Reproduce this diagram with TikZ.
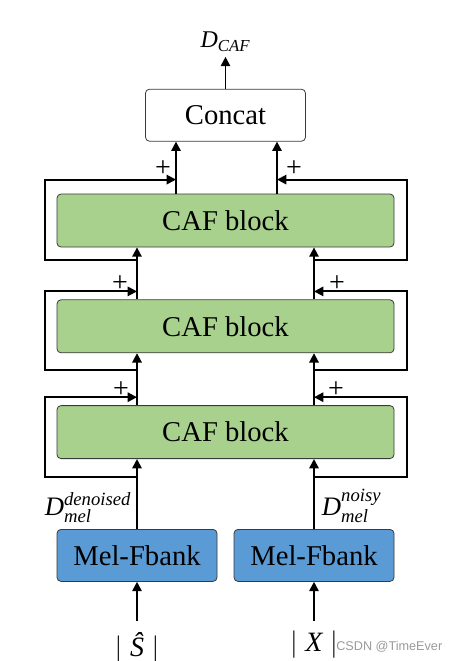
\documentclass[tikz,border=0pt]{standalone}
\usepackage{amsmath}
\usepackage{fontspec}
\setmainfont{Liberation Serif}
\setsansfont{Liberation Sans}
\usepackage{xcolor}
\definecolor{cafgreen}{HTML}{A9D18E}
\definecolor{melblue}{HTML}{5B9BD5}
\definecolor{edge}{HTML}{3A3A3A}
\definecolor{wmgray}{HTML}{9A9A9A}
\usetikzlibrary{arrows.meta,positioning,calc}
\tikzset{
  >={Triangle[length=7pt,width=7pt]},
  box/.style={draw=edge,rounded corners=3pt,line width=0.6pt,inner sep=2pt,align=center,font=\fontsize{21.5}{24}\selectfont},
  cbox/.style={box,fill=white,minimum width=120pt,minimum height=39pt},
  cafbox/.style={box,fill=cafgreen,minimum width=252.75pt,minimum height=39.75pt},
  melbox/.style={box,fill=melblue,minimum width=120pt,minimum height=39pt},
  lab/.style={font=\fontsize{20}{24}\selectfont,inner sep=2pt},
  plus/.style={font=\fontsize{21}{22}\selectfont,inner sep=0pt},
  arr/.style={->,line width=1.4pt},
  wmark/.style={font=\sffamily\fontsize{9.5}{11}\selectfont,text=wmgray,inner sep=0pt},
}

\begin{document}
\begin{tikzpicture}[x=0.75pt,y=-0.75pt,node distance=39pt]
\useasboundingbox (0,0) rectangle (457,661);
% blocks
\node[cafbox] (caf1) at (225.5,220.5) {CAF block};
\node[cafbox,below=of caf1] (caf2) {CAF block};
\node[cafbox,below=of caf2] (caf3) {CAF block};
\node[cbox,above=of caf1] (concat) {Concat};
\node[melbox,below right=52.5pt and 0pt of caf3.south west] (melL) {Mel-Fbank};
\node[melbox,below left=52.5pt and 0pt of caf3.south east] (melR) {Mel-Fbank};
% labels
\node[lab,font=\fontsize{18}{20}\selectfont,above=24pt of concat,inner sep=4pt] (dcaf) {$\textit{D}_{\textit{CAF}}$};
\node[lab,anchor=south east] (dden) at ($(melL.north)+(-3,-3)$) {$\textit{D}_{\textit{mel}}^{\textit{denoised}}$};
\node[lab,anchor=south west] (dnoi) at ($(melR.north)+(5,-3)$) {$\textit{D}_{\textit{mel}}^{\textit{noisy}}$};
\node[lab,font=\fontsize{21}{24}\selectfont,below=37pt of melL,inner sep=0.5pt] (inS) {$|\;\textit{Ŝ}\;|$};
\node[lab,font=\fontsize{21}{24}\selectfont,below=36pt of melR,inner sep=0.5pt] (inX) {$|\;\textit{X}\;|$};
\node[wmark,anchor=west] (wm) at (336,647) {CSDN @TimeEver};
% main paths
\draw[arr] ($(inS.north)+(0,-10)$) -- (melL); \draw[arr] ($(inX.north)+(0,-9)$) -- (melR);
\draw[arr] (melL) -- (melL |- caf3.south); \draw[arr] (melR) -- (melR |- caf3.south);
\draw[arr] (melL |- caf3.north) -- (melL |- caf2.south); \draw[arr] (melR |- caf3.north) -- (melR |- caf2.south);
\draw[arr] (melL |- caf2.north) -- (melL |- caf1.south); \draw[arr] (melR |- caf2.north) -- (melR |- caf1.south);
\coordinate (outL) at ($(concat.south)+(-49.5,0)$);
\coordinate (outR) at ($(concat.south)+(51.5,0)$);
\draw[arr] (outL |- caf1.north) -- (outL); \draw[arr] (outR |- caf1.north) -- (outR);
\draw[arr] (concat) -- (dcaf);
% residual joins
\coordinate (j1l) at ($(caf1.north -| outL)+(0,-14)$);
\coordinate (j1r) at ($(caf1.north -| outR)+(0,-14)$);
\coordinate (j2l) at ($(caf2.north -| melL)+(0,-8)$);
\coordinate (j2r) at ($(caf2.north -| melR)+(0,-8)$);
\coordinate (j3l) at ($(caf3.north -| melL)+(0,-8)$);
\coordinate (j3r) at ($(caf3.north -| melR)+(0,-8)$);
\draw[arr] ($(caf1.south -| melL)+(0,13)$) -| ($(caf1.west)+(-12,0)$) |- (j1l);
\draw[arr] ($(caf1.south -| melR)+(0,13)$) -| ($(caf1.east)+(13,0)$) |- (j1r);
\draw[arr] ($(caf2.south -| melL)+(0,17)$) -| ($(caf2.west)+(-12,0)$) |- (j2l);
\draw[arr] ($(caf2.south -| melR)+(0,17)$) -| ($(caf2.east)+(13,0)$) |- (j2r);
\draw[arr] ($(caf3.south -| melL)+(0,18)$) -| ($(caf3.west)+(-12,0)$) |- (j3l);
\draw[arr] ($(caf3.south -| melR)+(0,18)$) -| ($(caf3.east)+(13,0)$) |- (j3r);
\node[plus] (p1l) at ($(j1l)+(-13,-11)$) {+};
\node[plus] (p1r) at ($(j1r)+(17,-11)$) {+};
\node[plus] (p2l) at ($(j2l)+(-17,-8)$) {+};
\node[plus] (p2r) at ($(j2r)+(23,-8)$) {+};
\node[plus] (p3l) at ($(j3l)+(-16,-8)$) {+};
\node[plus] (p3r) at ($(j3r)+(22,-8)$) {+};
\end{tikzpicture}
\end{document}
